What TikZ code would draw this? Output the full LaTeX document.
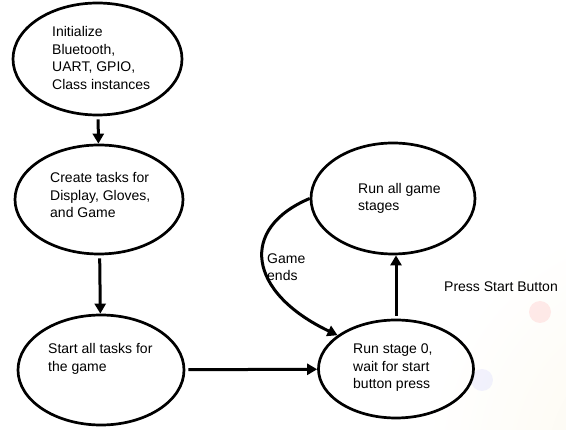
\documentclass[tikz,border=0pt]{standalone}
\usepackage{fontspec}
\setmainfont{Liberation Sans}
\usetikzlibrary{shapes.geometric,arrows.meta,positioning}
\definecolor{cream}{RGB}{252,248,236}

\begin{document}
\begin{tikzpicture}[x=1pt,y=-1pt]
    \tikzset{state/.style={
        ellipse, draw, line width=2.7pt, inner sep=0pt
      },
      txt/.style={anchor=west, align=left, inner sep=0pt,
        font=\fontsize{14pt}{17.5pt}\selectfont
      },
      flow/.style={line width=3pt, -{Triangle[length=10pt,width=11pt]}, shorten <=3pt}
    }

    \useasboundingbox (0,0) rectangle (566,430);
    \begin{scope}
      \clip (0,0) rectangle (566,430);
      \shade[inner color=cream, outer color=white] (670,460) circle (245pt);
      \fill[red!40, opacity=0.2] (540,312) circle (11pt);
      \fill[blue!40, opacity=0.12] (482,380) circle (11pt);
    \end{scope}

    \node[state, minimum width=169pt, minimum height=112pt] (init) at (97.5,59) {};
    \node[state, minimum width=168pt, minimum height=109pt] (tasks) at (99,199.5) {};
    \node[state, minimum width=166pt, minimum height=110pt] (start) at (101,370) {};
    \node[state, minimum width=155pt, minimum height=98pt] (stage) at (396,369) {};
    \node[state, minimum width=164pt, minimum height=111pt] (game) at (393,198.5) {};

    \node[txt] (initT) at (52,58) {Initialize\\Bluetooth,\\UART, GPIO,\\Class instances};
    \node[txt] (tasksT) at (50,195) {Create tasks for\\Display, Gloves,\\and Game};
    \node[txt] (startT) at (48,359) {Start all tasks for\\the game};
    \node[txt] (stageT) at (353,368) {Run stage 0,\\wait for start\\button press};
    \node[txt] (gameT) at (358,198.5) {Run all game\\stages};
    \node[txt] (endsT) at (267,267) {Game\\ends};
    \node[txt] (pressT) at (444,287) {Press Start Button};

    \draw[flow] (init) -- (tasks);
    \draw[flow] (tasks) -- (start);
    \draw[flow] (start) -- (stage);
    \draw[flow] (stage.north) -- (stage.north |- game.south);
    \draw[flow, shorten <=0pt] (game.west) .. controls +(-71,30) and +(-90,-43) .. (stage.150);

  \end{tikzpicture}
\end{document}
